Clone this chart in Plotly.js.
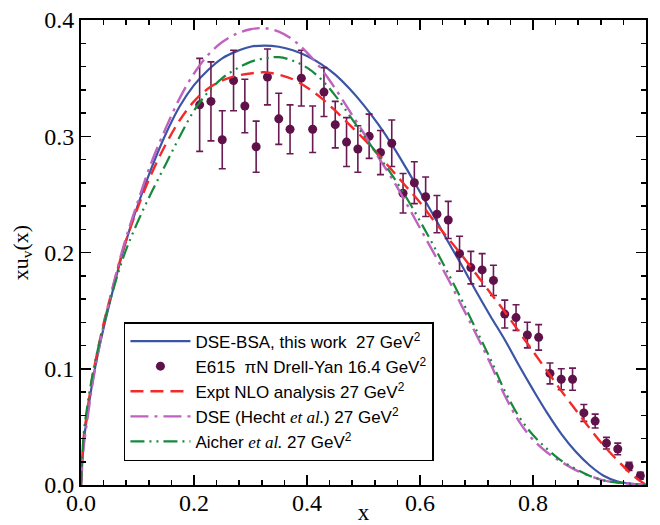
<!DOCTYPE html>
<html>
<head>
<meta charset="utf-8">
<script src="https://cdn.plot.ly/plotly-3.0.1.min.js"></script>
<style>html,body{margin:0;padding:0;background:#fff;}#chart{width:660px;height:525px;}</style>
</head>
<body>
<div id="chart"></div>
<script>
// E615 data points (x, xu_v, error)
const xData = [0.21,0.23,0.25,0.27,0.29,0.31,0.33,0.35,0.37,0.39,0.41,0.43,0.45,0.47,0.49,0.51,0.53,0.55,0.57,0.59,0.61,0.63,0.65,0.67,0.69,0.71,0.73,0.75,0.77,0.79,0.81,0.83,0.85,0.87,0.89,0.91,0.93,0.95,0.97,0.99];
const yData = [0.327,0.330,0.297,0.348,0.326,0.291,0.351,0.315,0.306,0.350,0.306,0.338,0.310,0.295,0.289,0.300,0.286,0.294,0.251,0.260,0.248,0.233,0.228,0.199,0.187,0.185,0.176,0.147,0.144,0.129,0.127,0.096,0.091,0.091,0.062,0.055,0.036,0.031,0.016,0.008];
const errData = [0.040,0.034,0.025,0.026,0.023,0.022,0.024,0.022,0.021,0.024,0.020,0.021,0.020,0.021,0.020,0.019,0.019,0.020,0.017,0.018,0.017,0.016,0.016,0.015,0.014,0.014,0.013,0.012,0.011,0.011,0.011,0.009,0.009,0.0095,0.0073,0.006,0.005,0.005,0.0035,0.003];

// Curves
const xCurve = [0,0.005,0.01,0.02,0.03,0.04,0.05,0.075,0.1,0.125,0.15,0.175,0.2,0.225,0.25,0.275,0.3,0.325,0.35,0.375,0.4,0.425,0.45,0.475,0.5,0.525,0.55,0.575,0.6,0.625,0.65,0.675,0.7,0.725,0.75,0.775,0.8,0.825,0.85,0.875,0.9,0.925,0.95,0.975,1.0];
const yDseBsa = [0,0.038,0.056,0.088,0.113,0.135,0.155,0.202,0.240,0.273,0.302,0.326,0.344,0.357,0.367,0.373,0.377,0.378,0.377,0.374,0.369,0.362,0.353,0.341,0.327,0.311,0.293,0.273,0.252,0.231,0.209,0.188,0.166,0.145,0.125,0.103,0.082,0.062,0.044,0.029,0.017,0.008,0.003,0.001,0];
const yNlo    = [0,0.042,0.060,0.092,0.117,0.139,0.158,0.203,0.238,0.268,0.293,0.314,0.330,0.341,0.348,0.352,0.354,0.355,0.353,0.349,0.342,0.333,0.322,0.310,0.298,0.285,0.271,0.257,0.243,0.227,0.212,0.197,0.181,0.165,0.149,0.132,0.115,0.098,0.081,0.065,0.049,0.034,0.021,0.009,0];
const yHecht  = [0,0.034,0.052,0.086,0.113,0.137,0.158,0.205,0.243,0.278,0.307,0.333,0.354,0.370,0.381,0.388,0.392,0.393,0.390,0.383,0.372,0.358,0.341,0.322,0.303,0.283,0.264,0.243,0.221,0.199,0.177,0.153,0.129,0.104,0.077,0.055,0.039,0.028,0.020,0.013,0.008,0.004,0.002,0.001,0];
const yAicher = [0,0.045,0.064,0.094,0.117,0.137,0.156,0.196,0.226,0.252,0.276,0.300,0.322,0.338,0.350,0.358,0.364,0.367,0.368,0.365,0.359,0.349,0.335,0.318,0.301,0.284,0.267,0.248,0.227,0.205,0.182,0.158,0.133,0.108,0.081,0.059,0.043,0.031,0.021,0.014,0.008,0.004,0.002,0.001,0];

const names = [
  'DSE-BSA, this work  27 GeV<sup>2</sup>',
  'E615  \u03c0N Drell-Yan 16.4 GeV<sup>2</sup>',
  'Expt NLO analysis 27 GeV<sup>2</sup>',
  'DSE (Hecht <span style="font-family:\'Liberation Serif\';font-style:italic">et al.</span>) 27 GeV<sup>2</sup>',
  'Aicher <span style="font-family:\'Liberation Serif\';font-style:italic">et al.</span> 27 GeV<sup>2</sup>'
];

const traces = [
  {x:xCurve, y:yDseBsa, type:'scatter', mode:'lines', name:names[0],
   line:{color:'#3b55a6', width:2.2, shape:'spline', smoothing:1}},
  {x:xData, y:yData, type:'scatter', mode:'markers', name:names[1],
   marker:{color:'#5e1249', size:9},
   error_y:{type:'data', array:errData, visible:true, color:'#6a1a52', thickness:1.6, width:3.5}},
  {x:xCurve, y:yNlo, type:'scatter', mode:'lines', name:names[2],
   line:{color:'#f42a2a', width:2.4, dash:'13px,7px', shape:'spline', smoothing:1}},
  {x:xCurve, y:yHecht, type:'scatter', mode:'lines', name:names[3],
   line:{color:'#c062c0', width:2.4, dash:'18px,6px,3px,6px', shape:'spline', smoothing:1}},
  {x:xCurve, y:yAicher, type:'scatter', mode:'lines', name:names[4],
   line:{color:'#16893c', width:2.2, dash:'14px,5px,2px,5px,2px,5px', shape:'spline', smoothing:1}}
];

const serif = 'Liberation Serif, Times New Roman, serif';
const tickFont = {family:serif, size:24, color:'black'};
const axisBase = {
  ticks:'inside', ticklen:10, tickwidth:1.5, tickcolor:'black',
  showline:true, linecolor:'black', linewidth:2, mirror:'allticks',
  showgrid:false, zeroline:false, tickfont:tickFont, tickformat:'.1f'
};

const layout = {
  width:660, height:525,
  margin:{l:81, r:14, t:20, b:40},
  paper_bgcolor:'white', plot_bgcolor:'white',
  showlegend:true,
  legend:{x:0.076, y:0.3505, xanchor:'left', yanchor:'top',
    bordercolor:'black', borderwidth:1.5, bgcolor:'white',
    font:{family:'Liberation Sans, Arial, sans-serif', size:17, color:'black'},
    itemwidth:60, traceorder:'normal'},
  xaxis:Object.assign({}, axisBase, {
    range:[0,1], tick0:0, dtick:0.2, ticklabelstandoff:-5,
    minor:{ticks:'inside', ticklen:5, tickwidth:1.5, tickcolor:'black', dtick:0.04, showgrid:false},
    title:{text:'x', font:{family:serif, size:23, color:'black'}, standoff:0}
  }),
  yaxis:Object.assign({}, axisBase, {
    range:[0,0.4], tick0:0, dtick:0.1,
    minor:{ticks:'inside', ticklen:5, tickwidth:1.5, tickcolor:'black', dtick:0.02, showgrid:false},
    title:{text:'xu<sub>v</sub>(x)', font:{family:serif, size:22, color:'black'}, standoff:10}
  })
};

Plotly.newPlot('chart', traces, layout, {displayModeBar:false, staticPlot:true});
</script>
</body>
</html>
